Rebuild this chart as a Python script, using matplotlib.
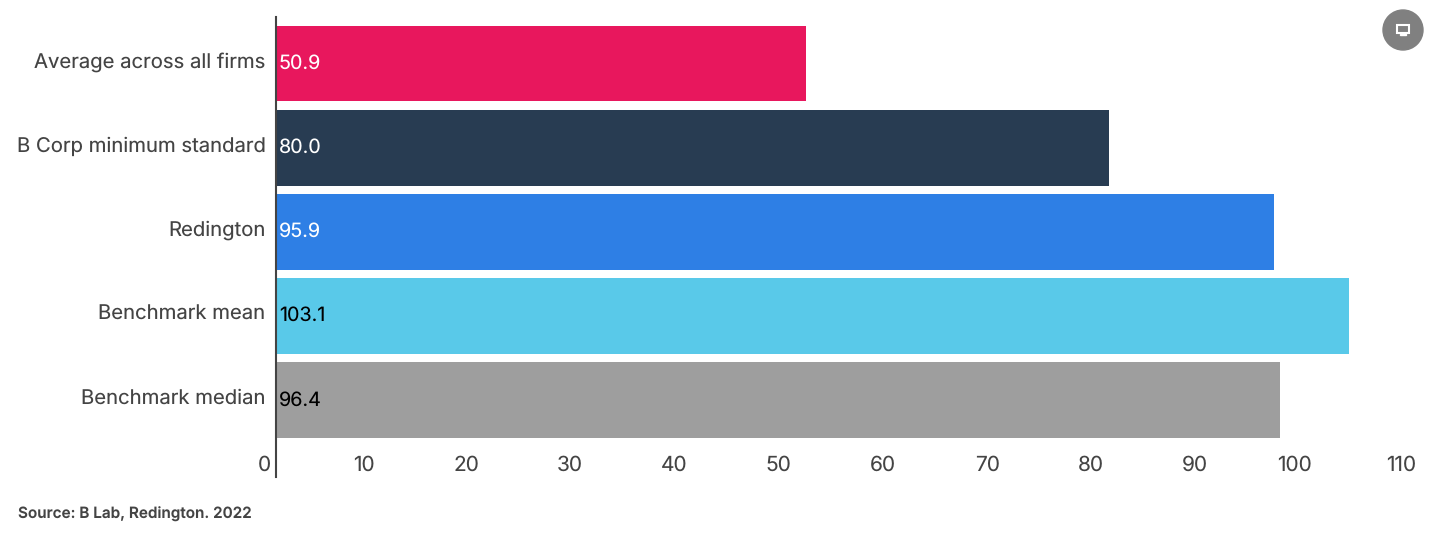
import matplotlib
matplotlib.use('Agg')
import matplotlib.pyplot as plt
from matplotlib.patches import Circle, Rectangle
from matplotlib.transforms import ScaledTranslation

categories = ['Average across all firms', 'B Corp minimum standard', 'Redington', 'Benchmark mean', 'Benchmark median']
values = [50.9, 80.0, 95.9, 103.1, 96.4]
value_labels = ['50.9', '80.0', '95.9', '103.1', '96.4']
colors = ['#E8175D', '#283C52', '#2E7FE5', '#59C9E9', '#9E9E9E']
label_colors = ['white', 'white', 'white', 'black', 'black']
xticks = [0, 10, 20, 30, 40, 50, 60, 70, 80, 90, 100, 110]

plt.rcParams['font.family'] = ['Inter', 'DejaVu Sans']
plt.rcParams['text.hinting'] = 'none'
W, H = 1433, 534
fig = plt.figure(figsize=(W / 100, H / 100), dpi=100)

# axes box in pixels: left 276, top 17, bottom 477
ax = fig.add_axes([276 / W, 1 - 477 / H, (1433 - 276) / W, 460 / H])
ax.barh(range(5), values, height=0.9, color=colors)
ax.set_xlim(0, 1157 / 10.41)
ax.set_ylim(4.911, -0.552)

for s in ['top', 'right', 'bottom']:
    ax.spines[s].set_visible(False)
ax.spines['left'].set_color('#444444')
ax.spines['left'].set_linewidth(1.5)

ax.set_yticks(range(5))
ax.set_yticklabels(categories, fontsize=14.6, color='#444444')
ax.tick_params(axis='y', length=0, pad=7.5)
ax.set_xticks(xticks)
ax.tick_params(axis='x', length=0, pad=-15.5, labelsize=15, labelcolor='#444444')

shift = ScaledTranslation(-5 / 100, 0, fig.dpi_scale_trans)
for t in ax.get_xticklabels():
    t.set_ha('right')
    t.set_transform(t.get_transform() + shift)
for t in ax.get_yticklabels():
    t.set_transform(t.get_transform() + ScaledTranslation(0, 3.5 / 100, fig.dpi_scale_trans))

for i in range(5):
    ax.annotate(value_labels[i], (0, i), xytext=(3, 0), textcoords='offset pixels',
                color=label_colors[i], fontsize=14.2, va='center', ha='left')

fig.text(18 / W, 1 - 514 / H, 'Source: B Lab, Redington. 2022', fontsize=11, fontweight='semibold',
         color='#444444', va='center', ha='left')

# small round screen icon top right, placed in inches so the circle stays round
it = fig.dpi_scale_trans
fig.add_artist(Circle((14.03, 5.04), 0.20, transform=it, color='#808080'))
fig.add_artist(Rectangle((13.97, 5.01), 0.12, 0.08, transform=it,
                         facecolor='none', edgecolor='white', linewidth=1.5))
fig.add_artist(Rectangle((14.00, 4.985), 0.06, 0.015, transform=it, color='white'))

fig.savefig('out.png', dpi=100)
